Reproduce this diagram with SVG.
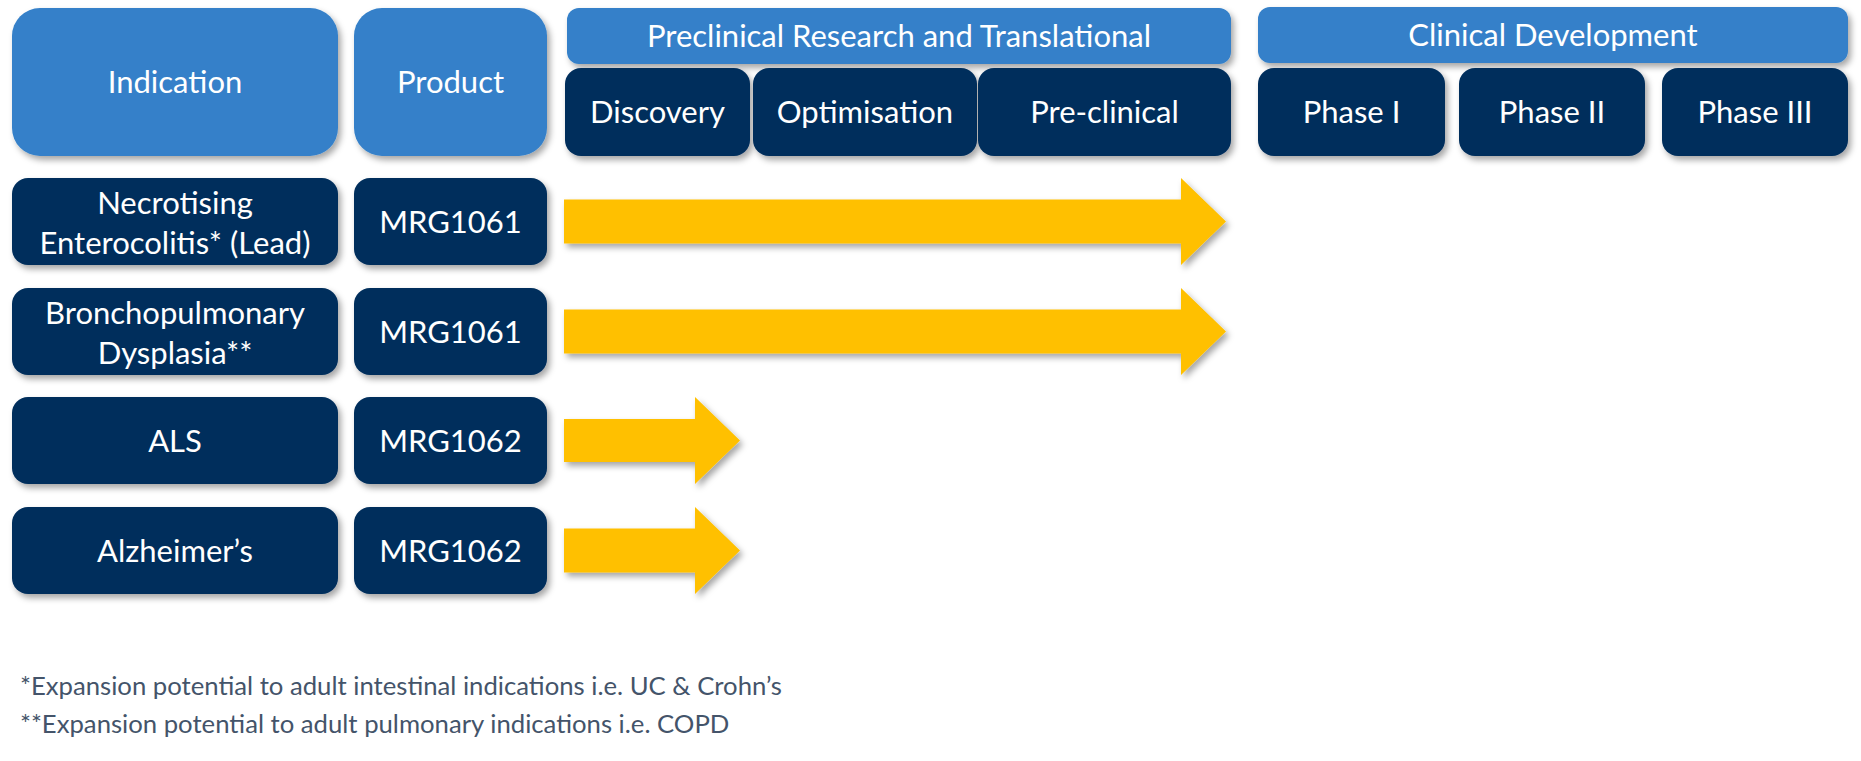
<svg xmlns="http://www.w3.org/2000/svg" width="1861" height="761" viewBox="0 0 1861 761">
<defs>
<filter id="sh" x="-10%" y="-10%" width="125%" height="140%">
<feDropShadow dx="3" dy="4" stdDeviation="3" flood-color="#000" flood-opacity="0.35"/>
</filter>
</defs>
<style>
.lb{fill:#3480C9;filter:url(#sh)}
.nv{fill:#002F5C;filter:url(#sh)}
.ar{fill:#FFC000;filter:url(#sh)}
text{font-family:Lato,"Liberation Sans",sans-serif;fill:#fff;text-anchor:middle;font-size:31px}
.fn{fill:#44546A;text-anchor:start;font-size:25.7px}
</style>
<rect width="1861" height="761" fill="#fff"/>
<g id="hdr-indication"><rect class="lb" x="12" y="8" width="326" height="148" rx="28"/><text x="175" y="93">Indication</text></g>
<g id="hdr-product"><rect class="lb" x="354" y="8" width="193" height="148" rx="28"/><text x="450.5" y="93">Product</text></g>
<g id="hdr-preclinical"><rect class="lb" x="567" y="8" width="664" height="56" rx="12"/><text x="899" y="47">Preclinical Research and Translational</text></g>
<g id="hdr-clinical"><rect class="lb" x="1258" y="7" width="590" height="56" rx="12"/><text x="1553" y="46">Clinical Development</text></g>
<g id="stage-discovery"><rect class="nv" x="565" y="68" width="185" height="88" rx="16"/><text x="657.5" y="123">Discovery</text></g>
<g id="stage-optimisation"><rect class="nv" x="753" y="68" width="224" height="88" rx="16"/><text x="865" y="123">Optimisation</text></g>
<g id="stage-preclinical"><rect class="nv" x="978" y="68" width="253" height="88" rx="16"/><text x="1104.5" y="123">Pre-clinical</text></g>
<g id="stage-phase1"><rect class="nv" x="1258" y="68" width="187" height="88" rx="16"/><text x="1351.5" y="123">Phase I</text></g>
<g id="stage-phase2"><rect class="nv" x="1459" y="68" width="186" height="88" rx="16"/><text x="1552" y="123">Phase II</text></g>
<g id="stage-phase3"><rect class="nv" x="1662" y="68" width="186" height="88" rx="16"/><text x="1755" y="123">Phase III</text></g>
<g id="row1-indication"><rect class="nv" x="12" y="178" width="326" height="87" rx="16"/><text x="175" y="214">Necrotising</text><text x="175" y="254">Enterocolitis* (Lead)</text></g>
<g id="row1-product"><rect class="nv" x="354" y="178" width="193" height="87" rx="16"/><text x="450.5" y="233">MRG1061</text></g>
<g id="row2-indication"><rect class="nv" x="12" y="288" width="326" height="87" rx="16"/><text x="175" y="324">Bronchopulmonary</text><text x="175" y="364">Dysplasia**</text></g>
<g id="row2-product"><rect class="nv" x="354" y="288" width="193" height="87" rx="16"/><text x="450.5" y="343">MRG1061</text></g>
<g id="row3-indication"><rect class="nv" x="12" y="397" width="326" height="87" rx="16"/><text x="175" y="452">ALS</text></g>
<g id="row3-product"><rect class="nv" x="354" y="397" width="193" height="87" rx="16"/><text x="450.5" y="452">MRG1062</text></g>
<g id="row4-indication"><rect class="nv" x="12" y="507" width="326" height="87" rx="16"/><text x="175" y="562">Alzheimer’s</text></g>
<g id="row4-product"><rect class="nv" x="354" y="507" width="193" height="87" rx="16"/><text x="450.5" y="562">MRG1062</text></g>
<g id="connectors">
<path class="ar" d="M564,199.5 H1181 V178 L1226,221.5 L1181,265 V243.5 H564 Z"/>
<path class="ar" d="M564,309.5 H1181 V288 L1226,331.5 L1181,375 V353.5 H564 Z"/>
<path class="ar" d="M564,419 H695 V397 L740,440.5 L695,484 V462 H564 Z"/>
<path class="ar" d="M564,528.5 H695 V507 L740,550.5 L695,594 V572.5 H564 Z"/>
</g>
<g id="footnotes">
<text class="fn" x="20" y="695">*Expansion potential to adult intestinal indications i.e. UC &amp; Crohn’s</text>
<text class="fn" x="20" y="733">**Expansion potential to adult pulmonary indications i.e. COPD</text>
</g>
</svg>
